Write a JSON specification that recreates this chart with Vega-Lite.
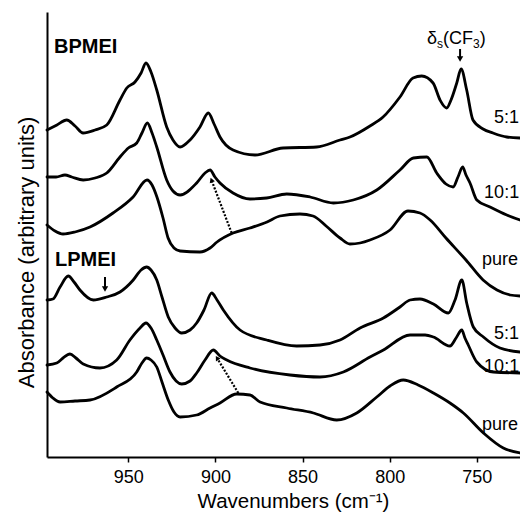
{
  "$schema": "https://vega.github.io/schema/vega-lite/v6.json",
  "width": 473,
  "height": 445,
  "autosize": {"type": "none"},
  "padding": {"left": 47, "top": 12, "right": 0, "bottom": 61},
  "background": "white",
  "config": {"view": {"stroke": null}, "font": "Liberation Sans"},
  "datasets": {
    "spectra": [
      {"s":"B5","wn":996.7,"a":3.27},{"s":"B5","wn":991.0,"a":3.32},{"s":"B5","wn":985.4,"a":3.37},{"s":"B5","wn":980.6,"a":3.31},{"s":"B5","wn":976.0,"a":3.24},{"s":"B5","wn":969.1,"a":3.27},{"s":"B5","wn":962.4,"a":3.32},{"s":"B5","wn":954.8,"a":3.57},{"s":"B5","wn":950.9,"a":3.69},{"s":"B5","wn":946.2,"a":3.75},{"s":"B5","wn":942.7,"a":3.84},{"s":"B5","wn":939.9,"a":3.94},{"s":"B5","wn":937.0,"a":3.85},{"s":"B5","wn":933.7,"a":3.67},{"s":"B5","wn":928.0,"a":3.30},{"s":"B5","wn":924.4,"a":3.17},{"s":"B5","wn":920.3,"a":3.10},{"s":"B5","wn":914.6,"a":3.17},{"s":"B5","wn":908.9,"a":3.30},{"s":"B5","wn":904.1,"a":3.44},{"s":"B5","wn":900.8,"a":3.33},{"s":"B5","wn":897.4,"a":3.20},{"s":"B5","wn":889.9,"a":3.07},{"s":"B5","wn":877.3,"a":3.02},{"s":"B5","wn":861.2,"a":3.09},{"s":"B5","wn":841.9,"a":3.10},{"s":"B5","wn":828.5,"a":3.17},{"s":"B5","wn":822.8,"a":3.20},{"s":"B5","wn":811.3,"a":3.31},{"s":"B5","wn":803.8,"a":3.40},{"s":"B5","wn":794.1,"a":3.60},{"s":"B5","wn":786.6,"a":3.79},{"s":"B5","wn":781.6,"a":3.81},{"s":"B5","wn":775.1,"a":3.74},{"s":"B5","wn":771.1,"a":3.57},{"s":"B5","wn":767.3,"a":3.49},{"s":"B5","wn":764.8,"a":3.57},{"s":"B5","wn":761.5,"a":3.74},{"s":"B5","wn":759.0,"a":3.88},{"s":"B5","wn":755.8,"a":3.67},{"s":"B5","wn":752.2,"a":3.37},{"s":"B5","wn":746.4,"a":3.28},{"s":"B5","wn":740.7,"a":3.24},{"s":"B5","wn":732.8,"a":3.20},{"s":"B5","wn":725.2,"a":3.19},
      {"s":"B10","wn":996.7,"a":2.80},{"s":"B10","wn":991.5,"a":2.80},{"s":"B10","wn":986.4,"a":2.82},{"s":"B10","wn":982.5,"a":2.80},{"s":"B10","wn":975.9,"a":2.77},{"s":"B10","wn":969.1,"a":2.79},{"s":"B10","wn":962.4,"a":2.84},{"s":"B10","wn":954.8,"a":3.00},{"s":"B10","wn":950.0,"a":3.09},{"s":"B10","wn":945.2,"a":3.14},{"s":"B10","wn":942.2,"a":3.24},{"s":"B10","wn":939.1,"a":3.34},{"s":"B10","wn":936.4,"a":3.24},{"s":"B10","wn":933.7,"a":3.10},{"s":"B10","wn":928.0,"a":2.77},{"s":"B10","wn":924.4,"a":2.66},{"s":"B10","wn":920.3,"a":2.62},{"s":"B10","wn":910.8,"a":2.74},{"s":"B10","wn":906.0,"a":2.84},{"s":"B10","wn":903.1,"a":2.87},{"s":"B10","wn":900.3,"a":2.80},{"s":"B10","wn":897.4,"a":2.74},{"s":"B10","wn":889.9,"a":2.64},{"s":"B10","wn":880.2,"a":2.58},{"s":"B10","wn":870.6,"a":2.59},{"s":"B10","wn":859.1,"a":2.63},{"s":"B10","wn":845.7,"a":2.60},{"s":"B10","wn":832.3,"a":2.54},{"s":"B10","wn":820.9,"a":2.57},{"s":"B10","wn":807.4,"a":2.67},{"s":"B10","wn":794.1,"a":2.87},{"s":"B10","wn":786.4,"a":2.99},{"s":"B10","wn":778.7,"a":3.00},{"s":"B10","wn":773.0,"a":2.84},{"s":"B10","wn":767.7,"a":2.73},{"s":"B10","wn":763.6,"a":2.70},{"s":"B10","wn":760.8,"a":2.80},{"s":"B10","wn":758.1,"a":2.90},{"s":"B10","wn":756.2,"a":2.82},{"s":"B10","wn":753.9,"a":2.74},{"s":"B10","wn":750.0,"a":2.57},{"s":"B10","wn":742.4,"a":2.50},{"s":"B10","wn":732.8,"a":2.42},{"s":"B10","wn":725.2,"a":2.37},
      {"s":"BP","wn":996.7,"a":2.32},{"s":"BP","wn":992.1,"a":2.26},{"s":"BP","wn":987.5,"a":2.23},{"s":"BP","wn":980.6,"a":2.25},{"s":"BP","wn":972.0,"a":2.30},{"s":"BP","wn":958.8,"a":2.44},{"s":"BP","wn":947.3,"a":2.60},{"s":"BP","wn":939.3,"a":2.77},{"s":"BP","wn":936.4,"a":2.72},{"s":"BP","wn":933.6,"a":2.60},{"s":"BP","wn":930.1,"a":2.39},{"s":"BP","wn":927.2,"a":2.19},{"s":"BP","wn":923.8,"a":2.09},{"s":"BP","wn":920.3,"a":2.06},{"s":"BP","wn":908.9,"a":2.05},{"s":"BP","wn":903.1,"a":2.09},{"s":"BP","wn":899.1,"a":2.15},{"s":"BP","wn":889.9,"a":2.24},{"s":"BP","wn":880.2,"a":2.29},{"s":"BP","wn":870.4,"a":2.35},{"s":"BP","wn":863.0,"a":2.41},{"s":"BP","wn":851.5,"a":2.43},{"s":"BP","wn":844.0,"a":2.41},{"s":"BP","wn":836.5,"a":2.31},{"s":"BP","wn":828.5,"a":2.19},{"s":"BP","wn":822.8,"a":2.13},{"s":"BP","wn":817.0,"a":2.14},{"s":"BP","wn":811.3,"a":2.17},{"s":"BP","wn":799.8,"a":2.27},{"s":"BP","wn":789.5,"a":2.46},{"s":"BP","wn":782.6,"a":2.44},{"s":"BP","wn":776.8,"a":2.37},{"s":"BP","wn":767.7,"a":2.19},{"s":"BP","wn":756.2,"a":1.97},{"s":"BP","wn":746.4,"a":1.77},{"s":"BP","wn":738.4,"a":1.67},{"s":"BP","wn":730.9,"a":1.62},{"s":"BP","wn":725.2,"a":1.61},
      {"s":"L5","wn":996.7,"a":1.57},{"s":"L5","wn":993.3,"a":1.58},{"s":"L5","wn":989.2,"a":1.70},{"s":"L5","wn":984.5,"a":1.81},{"s":"L5","wn":981.2,"a":1.75},{"s":"L5","wn":977.8,"a":1.67},{"s":"L5","wn":970.1,"a":1.57},{"s":"L5","wn":962.4,"a":1.60},{"s":"L5","wn":954.8,"a":1.65},{"s":"L5","wn":947.2,"a":1.77},{"s":"L5","wn":942.7,"a":1.87},{"s":"L5","wn":939.5,"a":1.90},{"s":"L5","wn":937.0,"a":1.87},{"s":"L5","wn":933.7,"a":1.77},{"s":"L5","wn":930.7,"a":1.60},{"s":"L5","wn":927.1,"a":1.40},{"s":"L5","wn":923.2,"a":1.29},{"s":"L5","wn":919.4,"a":1.24},{"s":"L5","wn":914.6,"a":1.27},{"s":"L5","wn":910.8,"a":1.34},{"s":"L5","wn":906.6,"a":1.47},{"s":"L5","wn":902.2,"a":1.64},{"s":"L5","wn":899.1,"a":1.57},{"s":"L5","wn":895.5,"a":1.47},{"s":"L5","wn":885.9,"a":1.27},{"s":"L5","wn":870.6,"a":1.17},{"s":"L5","wn":853.4,"a":1.11},{"s":"L5","wn":840.0,"a":1.12},{"s":"L5","wn":828.5,"a":1.17},{"s":"L5","wn":817.0,"a":1.29},{"s":"L5","wn":803.6,"a":1.39},{"s":"L5","wn":794.1,"a":1.50},{"s":"L5","wn":788.3,"a":1.57},{"s":"L5","wn":782.6,"a":1.58},{"s":"L5","wn":774.9,"a":1.53},{"s":"L5","wn":766.3,"a":1.44},{"s":"L5","wn":762.5,"a":1.57},{"s":"L5","wn":758.6,"a":1.77},{"s":"L5","wn":755.8,"a":1.54},{"s":"L5","wn":752.0,"a":1.30},{"s":"L5","wn":746.2,"a":1.20},{"s":"L5","wn":736.7,"a":1.09},{"s":"L5","wn":725.2,"a":1.05},
      {"s":"L10","wn":996.7,"a":0.92},{"s":"L10","wn":991.1,"a":0.94},{"s":"L10","wn":987.5,"a":0.99},{"s":"L10","wn":983.5,"a":1.03},{"s":"L10","wn":980.1,"a":0.99},{"s":"L10","wn":975.9,"a":0.93},{"s":"L10","wn":966.3,"a":0.89},{"s":"L10","wn":956.7,"a":0.97},{"s":"L10","wn":949.1,"a":1.17},{"s":"L10","wn":943.3,"a":1.29},{"s":"L10","wn":939.9,"a":1.34},{"s":"L10","wn":937.0,"a":1.29},{"s":"L10","wn":933.7,"a":1.17},{"s":"L10","wn":930.1,"a":1.02},{"s":"L10","wn":926.1,"a":0.85},{"s":"L10","wn":922.6,"a":0.76},{"s":"L10","wn":919.4,"a":0.73},{"s":"L10","wn":914.6,"a":0.76},{"s":"L10","wn":910.8,"a":0.84},{"s":"L10","wn":906.0,"a":0.97},{"s":"L10","wn":901.2,"a":1.07},{"s":"L10","wn":897.4,"a":1.01},{"s":"L10","wn":893.5,"a":0.97},{"s":"L10","wn":880.2,"a":0.89},{"s":"L10","wn":857.2,"a":0.82},{"s":"L10","wn":840.0,"a":0.80},{"s":"L10","wn":826.6,"a":0.85},{"s":"L10","wn":811.3,"a":1.00},{"s":"L10","wn":803.6,"a":1.07},{"s":"L10","wn":788.3,"a":1.22},{"s":"L10","wn":779.7,"a":1.22},{"s":"L10","wn":774.9,"a":1.20},{"s":"L10","wn":765.4,"a":1.11},{"s":"L10","wn":761.9,"a":1.19},{"s":"L10","wn":758.6,"a":1.27},{"s":"L10","wn":756.8,"a":1.19},{"s":"L10","wn":754.9,"a":1.12},{"s":"L10","wn":750.0,"a":0.95},{"s":"L10","wn":740.5,"a":0.85},{"s":"L10","wn":725.2,"a":0.84},
      {"s":"LP","wn":996.7,"a":0.65},{"s":"LP","wn":993.3,"a":0.59},{"s":"LP","wn":989.2,"a":0.55},{"s":"LP","wn":980.6,"a":0.56},{"s":"LP","wn":972.0,"a":0.57},{"s":"LP","wn":956.7,"a":0.70},{"s":"LP","wn":945.2,"a":0.85},{"s":"LP","wn":942.2,"a":0.94},{"s":"LP","wn":939.5,"a":0.99},{"s":"LP","wn":937.0,"a":0.97},{"s":"LP","wn":933.7,"a":0.90},{"s":"LP","wn":930.7,"a":0.75},{"s":"LP","wn":927.1,"a":0.57},{"s":"LP","wn":923.8,"a":0.45},{"s":"LP","wn":920.3,"a":0.40},{"s":"LP","wn":910.8,"a":0.42},{"s":"LP","wn":903.1,"a":0.49},{"s":"LP","wn":897.4,"a":0.54},{"s":"LP","wn":887.8,"a":0.63},{"s":"LP","wn":880.2,"a":0.62},{"s":"LP","wn":874.4,"a":0.55},{"s":"LP","wn":859.1,"a":0.49},{"s":"LP","wn":843.8,"a":0.44},{"s":"LP","wn":830.4,"a":0.37},{"s":"LP","wn":818.9,"a":0.44},{"s":"LP","wn":807.4,"a":0.60},{"s":"LP","wn":799.8,"a":0.71},{"s":"LP","wn":792.2,"a":0.77},{"s":"LP","wn":783.7,"a":0.72},{"s":"LP","wn":774.9,"a":0.64},{"s":"LP","wn":765.4,"a":0.54},{"s":"LP","wn":757.7,"a":0.44},{"s":"LP","wn":746.2,"a":0.24},{"s":"LP","wn":734.8,"a":0.09},{"s":"LP","wn":725.2,"a":0.04}
    ],
    "ratios": [
      {"t":"5:1","wn":740.1,"a":3.39},{"t":"10:1","wn":745.8,"a":2.64},{"t":"pure","wn":747.0,"a":1.97},
      {"t":"5:1","wn":740.1,"a":1.23},{"t":"10:1","wn":745.8,"a":0.90},{"t":"pure","wn":747.0,"a":0.32}
    ],
    "names": [
      {"t":"BPMEI","wn":992.7,"a":4.10},{"t":"LPMEI","wn":992.1,"a":1.97}
    ],
    "big": [
      {"t":"δ","wn":778.6,"a":4.13},{"t":"(CF","wn":769.4,"a":4.13},{"t":")","wn":748.3,"a":4.13}
    ],
    "small": [
      {"t":"s","wn":772.8,"a":4.09},{"t":"3","wn":752.2,"a":4.09}
    ],
    "shafts": [
      {"wn":759.6,"a":4.08,"a2":3.99},{"wn":963.4,"a":1.80,"a2":1.70}
    ],
    "heads": [
      {"wn":759.6,"a":3.98},{"wn":963.4,"a":1.68}
    ],
    "dots": [
      {"wn":890.7,"a":2.24,"wn2":902.3,"a2":2.77},{"wn":886.9,"a":0.64,"wn2":899.1,"a2":0.99}
    ]
  },
  "layer": [
    {
      "data": {"name": "spectra"},
      "mark": {"type": "line", "color": "black", "strokeWidth": 2.8, "interpolate": "monotone", "strokeJoin": "round", "strokeCap": "round"},
      "encoding": {
        "x": {"field": "wn", "type": "quantitative",
          "scale": {"domain": [725.2, 996.7], "reverse": true, "nice": false, "zero": false},
          "axis": {"values": [750, 800, 850, 900, 950], "title": "Wavenumbers (cm⁻¹)", "grid": false,
            "domainColor": "black", "domainWidth": 2, "tickColor": "black", "tickWidth": 1.5, "tickSize": 5,
            "labelFontSize": 18, "labelColor": "black", "labelPadding": 6, "labelFont": "Liberation Sans",
            "titleFontSize": 20.5, "titleFontWeight": "normal", "titleColor": "black", "titlePadding": 5,
            "titleFont": "Liberation Sans", "titleX": 246}},
        "y": {"field": "a", "type": "quantitative",
          "scale": {"domain": [0, 4.45], "nice": false, "zero": false},
          "axis": {"title": "Absorbance (arbitrary units)", "ticks": false, "labels": false, "grid": false,
            "domainColor": "black", "domainWidth": 2, "titleFontSize": 22, "titleFontWeight": "normal",
            "titleColor": "black", "titlePadding": 9, "titleFont": "Liberation Sans", "titleY": 240}},
        "detail": {"field": "s"}
      }
    },
    {
      "mark": {"type": "rule", "color": "black", "strokeWidth": 2},
      "encoding": {"y": {"datum": 4.45, "type": "quantitative"}}
    },
    {
      "data": {"name": "dots"},
      "mark": {"type": "rule", "color": "black", "strokeWidth": 2.2, "strokeDash": [2, 1.6]},
      "encoding": {
        "x": {"field": "wn", "type": "quantitative"}, "x2": {"field": "wn2"},
        "y": {"field": "a", "type": "quantitative"}, "y2": {"field": "a2"}
      }
    },
    {
      "data": {"values": [{"wn": 902.3, "a": 2.77}]},
      "mark": {"type": "point", "shape": "triangle-up", "filled": true, "color": "black", "opacity": 1, "size": 30, "angle": 338.5},
      "encoding": {"x": {"field": "wn", "type": "quantitative"}, "y": {"field": "a", "type": "quantitative"}}
    },
    {
      "data": {"values": [{"wn": 899.1, "a": 0.99}]},
      "mark": {"type": "point", "shape": "triangle-up", "filled": true, "color": "black", "opacity": 1, "size": 30, "angle": 328.7},
      "encoding": {"x": {"field": "wn", "type": "quantitative"}, "y": {"field": "a", "type": "quantitative"}}
    },
    {
      "data": {"name": "shafts"},
      "mark": {"type": "rule", "color": "black", "strokeWidth": 2},
      "encoding": {
        "x": {"field": "wn", "type": "quantitative"},
        "y": {"field": "a", "type": "quantitative"}, "y2": {"field": "a2"}
      }
    },
    {
      "data": {"name": "heads"},
      "mark": {"type": "point", "shape": "triangle-down", "filled": true, "color": "black", "opacity": 1, "size": 40},
      "encoding": {"x": {"field": "wn", "type": "quantitative"}, "y": {"field": "a", "type": "quantitative"}}
    },
    {
      "data": {"name": "ratios"},
      "mark": {"type": "text", "align": "left", "baseline": "middle", "fontSize": 18, "color": "black", "font": "Liberation Sans"},
      "encoding": {"x": {"field": "wn", "type": "quantitative"}, "y": {"field": "a", "type": "quantitative"}, "text": {"field": "t"}}
    },
    {
      "data": {"name": "names"},
      "mark": {"type": "text", "align": "left", "baseline": "middle", "fontSize": 20, "fontWeight": "bold", "color": "black", "font": "Liberation Sans"},
      "encoding": {"x": {"field": "wn", "type": "quantitative"}, "y": {"field": "a", "type": "quantitative"}, "text": {"field": "t"}}
    },
    {
      "data": {"name": "big"},
      "mark": {"type": "text", "align": "left", "baseline": "alphabetic", "fontSize": 18, "color": "black", "font": "Liberation Sans"},
      "encoding": {"x": {"field": "wn", "type": "quantitative"}, "y": {"field": "a", "type": "quantitative"}, "text": {"field": "t"}}
    },
    {
      "data": {"name": "small"},
      "mark": {"type": "text", "align": "left", "baseline": "alphabetic", "fontSize": 12, "color": "black", "font": "Liberation Sans"},
      "encoding": {"x": {"field": "wn", "type": "quantitative"}, "y": {"field": "a", "type": "quantitative"}, "text": {"field": "t"}}
    }
  ]
}
